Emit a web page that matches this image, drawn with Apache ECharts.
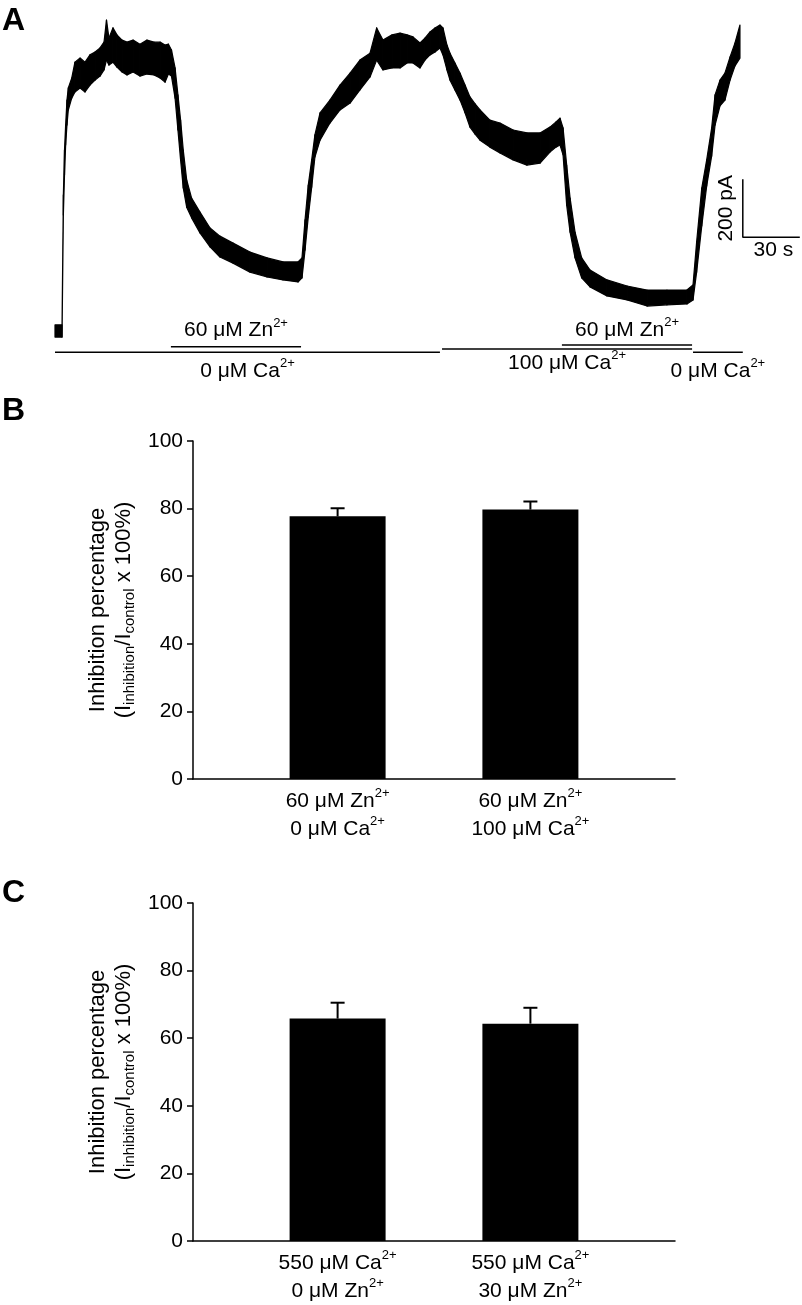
<!DOCTYPE html>
<html><head><meta charset="utf-8">
<script src="https://cdn.jsdelivr.net/npm/echarts@6/dist/echarts.min.js"></script>
<style>html,body{margin:0;padding:0;background:#fff}#c{width:802px;height:1305px}</style>
</head><body><div id="c"></div>
<script>
const FONT = '"Liberation Sans", Arial, Helvetica, sans-serif';

// ---------- Panel A: whole-cell current trace (time in s, current in pA) ----------
const traceTime = [0,3.7,4.4,5.0,5.6,6.3,7.0,8.8,10.5,13.2,
15.8,18.4,21.1,23.7,25.8,27.1,28.4,30.5,32.6,35.3,
37.9,41.1,44.7,48.4,52.1,55.3,57.9,59.7,61.3,63.2,
64.7,66.1,67.5,69.3,71.9,76.3,81.6,86.8,93.7,102.6,
111.6,120.0,127.9,130.0,131.6,133.3,135.1,136.8,139.5,144.7,
150.0,155.3,160.5,165.8,169.3,172.6,177.4,181.6,185.3,188.4,
192.1,194.7,197.4,200.0,202.6,204.2,206.3,207.9,210.5,213.2,
215.8,218.4,221.1,223.7,228.9,234.2,241.1,248.4,255.3,260.5,
263.7,265.8,267.4,269.3,271.1,273.7,277.2,281.6,290.5,301.1,
311.6,322.1,332.6,335.8,337.7,340.4,343.0,345.6,347.4,350.0,
352.6,355.3,357.9,360.5];
const traceUpper = [28,28,476,631,717,803,845,879,934,948,
934,959,969,983,1003,1079,1017,1052,1028,1010,
1003,1010,996,1010,1003,1003,993,996,976,914,
821,734,631,528,465,417,362,334,310,279,
259,245,245,259,390,510,597,683,759,803,
855,896,941,965,1052,1010,1028,1034,1028,1021,
1000,1017,1038,1052,1062,1052,993,965,931,896,
855,814,790,769,734,724,700,690,690,710,
728,741,707,579,465,348,259,217,183,162,
148,148,148,166,314,500,597,707,821,872,
896,952,1000,1062];
const traceLower = [-14,-14,407,545,648,717,769,810,831,845,
831,855,872,886,907,941,924,934,917,900,
890,900,886,893,890,879,865,893,886,810,
700,597,500,434,397,345,297,262,241,210,
193,183,176,190,286,400,503,607,665,724,
769,793,838,883,941,907,914,914,931,931,
914,941,959,969,983,959,907,872,838,803,
759,710,686,665,641,621,597,579,586,624,
641,648,614,441,348,259,190,159,128,114,
93,97,100,114,210,369,507,610,717,783,
803,872,921,948];

// scale bar: 30 s x 200 pA
const scaleBarTime = [362, 392];
const scaleBarCurrent = [330, 530];
const scaleBarLabels = ['200 pA', '30 s'];

// solution application bars
const solutionNames = ['0 μM Ca^2+', '60 μM Zn^2+', '100 μM Ca^2+', '60 μM Zn^2+', '0 μM Ca^2+'];
const solutionStart = [0, 61, 203.7, 266.8, 335.8];
const solutionEnd = [202.6, 129.5, 335.3, 335.3, 362];
const solutionLevel = [-66, -47, -55, -41, -66];
const solutionLabelOffset = [19, -16, 14, -15, 19]; // layout (px): below(+)/above(-)

// ---------- Panel B ----------
const categoriesB = ['60 μM Zn^2+\n0 μM Ca^2+', '60 μM Zn^2+\n100 μM Ca^2+'];
const valuesB = [77.7, 79.7];
const errorsB = [2.4, 2.4];

// ---------- Panel C ----------
const categoriesC = ['550 μM Ca^2+\n0 μM Zn^2+', '550 μM Ca^2+\n30 μM Zn^2+'];
const valuesC = [65.8, 64.3];
const errorsC = [4.7, 4.7];

const yTicks = [0, 20, 40, 60, 80, 100];

// ---------- helpers ----------
function toRich(s) {
  return s.split('\n').map(line =>
    ('{a|' + line.replace(/\^(\S+)/g, '}{s|$1}{a|') + '}').replace(/\{a\|\}/g, '')
  ).join('\n');
}
const richCfg = {
  a: { fontSize: 21, fontFamily: FONT, lineHeight: 28, color: '#000', fill: '#000' },
  s: { fontSize: 13, fontFamily: FONT, lineHeight: 18, verticalAlign: 'top', color: '#000', fill: '#000' }
};
const padCats = c => ['', c[0], '', c[1], ''];
const padVals = v => ['-', v[0], '-', v[1], '-'];

function renderErr(params, api) {
  const x = api.value(0), v = api.value(1), e = api.value(2);
  const p0 = api.coord([x, v]), p1 = api.coord([x, v + e]);
  return { type: 'group', children: [
    { type: 'line', shape: { x1: p0[0], y1: p0[1], x2: p1[0], y2: p1[1] }, style: { stroke: '#000', lineWidth: 2 } },
    { type: 'line', shape: { x1: p1[0] - 7, y1: p1[1], x2: p1[0] + 7, y2: p1[1] }, style: { stroke: '#000', lineWidth: 2 } }
  ]};
}

function renderTrace(params, api) {
  const i = params.dataIndex;
  if (i >= traceTime.length - 1) return null;
  const a = api.coord([traceTime[i], traceUpper[i]]);
  const b = api.coord([traceTime[i + 1], traceUpper[i + 1]]);
  const c = api.coord([traceTime[i + 1], traceLower[i + 1]]);
  const d = api.coord([traceTime[i], traceLower[i]]);
  return { type: 'polygon', shape: { points: [a, b, c, d] },
    style: { fill: '#000', stroke: '#000', lineWidth: 1.2, lineJoin: 'round' } };
}

const yName = '{n|Inhibition percentage}\n{n|(I}{b|inhibition}{n|/I}{b|control}{n| x 100%)}';

function barYAxis(gi) {
  return {
    gridIndex: gi, type: 'value', min: yTicks[0], max: yTicks[yTicks.length - 1], interval: 20,
    axisLine: { show: true, lineStyle: { color: '#000', width: 1.5 } },
    axisTick: { show: true, length: 6, lineStyle: { color: '#000', width: 1.5 } },
    axisLabel: { color: '#000', fontSize: 21, fontFamily: FONT, margin: 10 },
    splitLine: { show: false },
    name: yName, nameLocation: 'middle', nameGap: 56, nameRotate: 90,
    nameTextStyle: {
      fontSize: 22, fontFamily: FONT, color: '#000', lineHeight: 26,
      rich: {
        n: { fontSize: 22, fontFamily: FONT, color: '#000', lineHeight: 26 },
        b: { fontSize: 15, fontFamily: FONT, color: '#000', lineHeight: 13, verticalAlign: 'bottom' }
      }
    }
  };
}
function barXAxis(gi, cats) {
  return {
    gridIndex: gi, type: 'category', data: padCats(cats), boundaryGap: true,
    axisLine: { show: true, lineStyle: { color: '#000', width: 1.5 } },
    axisTick: { show: false },
    axisLabel: { interval: 0, margin: 8, formatter: v => v ? toRich(v) : '', rich: richCfg, color: '#000' },
    splitLine: { show: false }
  };
}

const series = [
  { type: 'custom', xAxisIndex: 0, yAxisIndex: 0, renderItem: renderTrace, silent: true,
    data: traceTime.map((t, i) => [t, traceUpper[i], traceLower[i]]), encode: { x: 0, y: [1, 2] }, clip: false },
  { type: 'line', xAxisIndex: 0, yAxisIndex: 0, symbol: 'none', silent: true,
    data: [[scaleBarTime[0], scaleBarCurrent[1]], [scaleBarTime[0], scaleBarCurrent[0]], [scaleBarTime[1], scaleBarCurrent[0]]],
    lineStyle: { color: '#000', width: 1.5 } }
];
solutionNames.forEach((n, i) => {
  series.push({ type: 'line', xAxisIndex: 0, yAxisIndex: 0, symbol: 'none', silent: true,
    data: [[solutionStart[i], solutionLevel[i]], [solutionEnd[i], solutionLevel[i]]],
    lineStyle: { color: '#000', width: 1.5 } });
});
series.push(
  { type: 'bar', xAxisIndex: 1, yAxisIndex: 1, data: padVals(valuesB), barWidth: 96, itemStyle: { color: '#000' }, silent: true },
  { type: 'custom', xAxisIndex: 1, yAxisIndex: 1, renderItem: renderErr, z: 5, silent: true,
    data: valuesB.map((v, i) => [2 * i + 1, v, errorsB[i]]), encode: { x: 0, y: 1 } },
  { type: 'bar', xAxisIndex: 2, yAxisIndex: 2, data: padVals(valuesC), barWidth: 96, itemStyle: { color: '#000' }, silent: true },
  { type: 'custom', xAxisIndex: 2, yAxisIndex: 2, renderItem: renderErr, z: 5, silent: true,
    data: valuesC.map((v, i) => [2 * i + 1, v, errorsC[i]]), encode: { x: 0, y: 1 } }
);

const option = {
  animation: false,
  backgroundColor: '#fff',
  grid: [
    { left: 55, top: 14, width: 746.7, height: 348 },
    { left: 193, top: 441, width: 482, height: 338 },
    { left: 193, top: 903, width: 482, height: 338 }
  ],
  xAxis: [
    { gridIndex: 0, type: 'value', min: 0, max: 393, show: false },
    barXAxis(1, categoriesB),
    barXAxis(2, categoriesC)
  ],
  yAxis: [
    { gridIndex: 0, type: 'value', min: -100, max: 1100, show: false },
    barYAxis(1),
    barYAxis(2)
  ],
  series
};

const chart = echarts.init(document.getElementById('c'), null, { renderer: 'canvas' });
chart.setOption(option);

// text overlays for panel A and panel letters
const toPx = (t, c) => chart.convertToPixel({ xAxisIndex: 0, yAxisIndex: 0 }, [t, c]);
const gRichStyle = {
  a: { fontSize: 21, fontFamily: FONT, lineHeight: 28, fill: '#000' },
  s: { fontSize: 13, fontFamily: FONT, lineHeight: 18, verticalAlign: 'top', fill: '#000' }
};
const graphics = [];
solutionNames.forEach((n, i) => {
  const p = toPx((solutionStart[i] + solutionEnd[i]) / 2, solutionLevel[i]);
  graphics.push({ type: 'text', x: p[0], y: p[1] + solutionLabelOffset[i], silent: true,
    style: { text: toRich(n), rich: gRichStyle, x: 0, y: 0, align: 'center', verticalAlign: 'middle',
      textAlign: 'center', textVerticalAlign: 'middle', fill: '#000', font: '21px ' + FONT } });
});
const vb = toPx(scaleBarTime[0], (scaleBarCurrent[0] + scaleBarCurrent[1]) / 2);
graphics.push({ type: 'text', x: vb[0] - 17, y: vb[1], rotation: Math.PI / 2, silent: true,
  style: { text: scaleBarLabels[0], x: 0, y: 0, align: 'center', verticalAlign: 'middle',
    textAlign: 'center', textVerticalAlign: 'middle', fill: '#000', font: '21px ' + FONT } });
const hb = toPx((scaleBarTime[0] + scaleBarTime[1]) / 2, scaleBarCurrent[0]);
graphics.push({ type: 'text', x: hb[0] + 2, y: hb[1] + 13, silent: true,
  style: { text: scaleBarLabels[1], x: 0, y: 0, align: 'center', verticalAlign: 'middle',
    textAlign: 'center', textVerticalAlign: 'middle', fill: '#000', font: '21px ' + FONT } });
[['A', 21.5], ['B', 411], ['C', 893.5]].forEach(([l, y]) => {
  graphics.push({ type: 'text', x: 2, y: y, silent: true,
    style: { text: l, x: 0, y: 0, align: 'left', verticalAlign: 'middle', textAlign: 'left', textVerticalAlign: 'middle',
      fill: '#000', font: 'bold 32px ' + FONT } });
});
chart.setOption({ graphic: graphics });
</script></body></html>
